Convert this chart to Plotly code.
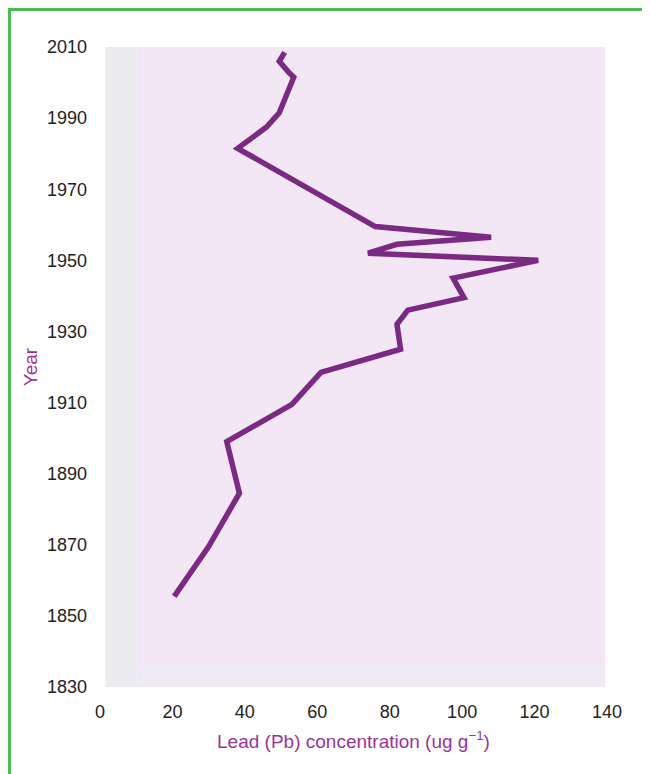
"""
Lead concentration profile by year (sediment core).
"""
import plotly.graph_objects as go

# data
lead_pb = [51, 49.5, 52, 53.5, 49.5, 46, 38, 76, 108, 82, 74, 121, 97.5,
           100.5, 85, 82, 83, 61, 53, 35, 38.5, 30, 20.5]
years = [2008.5, 2006, 2003, 2001.5, 1991.5, 1987.5, 1981.5, 1959.5, 1956.5,
         1954.5, 1952, 1950, 1945, 1939.5, 1936, 1932, 1925, 1918.5, 1909.5,
         1899, 1884.5, 1869.5, 1855.5]

x_ticks = [0, 20, 40, 60, 80, 100, 120, 140]
y_ticks = [1830, 1850, 1870, 1890, 1910, 1930, 1950, 1970, 1990, 2010]

PURPLE = "#7a2a82"
TITLE_PURPLE = "#993399"
GREEN = "#4cbb55"

W, H = 650, 774
L, R, T, B = 92, 51, 39, 95
pw, ph = W - L - R, H - T - B


def px_x(p):
    return (p - L) / pw


def px_y(p):
    return (H - B - p) / ph


fig = go.Figure()

fig.add_trace(go.Scatter(
    x=lead_pb, y=years, mode="lines",
    line=dict(color=PURPLE, width=5.5),
    hoverinfo="skip",
))

shapes = [
    # plot background panels
    dict(type="rect", xref="x", yref="y", x0=1.5, x1=10, y0=1830, y1=2010.5,
         fillcolor="#ecebef", line_width=0, layer="below"),
    dict(type="rect", xref="x", yref="y", x0=10, x1=139.5, y0=1836, y1=2010.5,
         fillcolor="#f4e7f5", line_width=0, layer="below"),
    dict(type="rect", xref="x", yref="y", x0=10, x1=139.5, y0=1830, y1=1836,
         fillcolor="#efebf4", line_width=0, layer="below"),
    # green frame, left and top
    dict(type="line", xref="paper", yref="paper", x0=px_x(1.5), x1=px_x(1.5),
         y0=px_y(H), y1=px_y(0), line=dict(color=GREEN, width=3)),
    dict(type="line", xref="paper", yref="paper", x0=px_x(0), x1=px_x(W),
         y0=px_y(1.5), y1=px_y(1.5), line=dict(color=GREEN, width=3)),
]

fig.update_layout(
    width=W, height=H,
    margin=dict(l=L, r=R, t=T, b=B),
    paper_bgcolor="white",
    plot_bgcolor="white",
    showlegend=False,
    shapes=shapes,
    font=dict(family="Liberation Sans, Arial, sans-serif", size=18, color="#222222"),
    xaxis=dict(
        range=[0, 140], tickvals=x_ticks, showgrid=False, zeroline=False,
        showline=False, ticks="", ticklabelstandoff=12,
        title=dict(text="Lead (Pb) concentration (ug g<sup>−1</sup>)",
                   font=dict(color=TITLE_PURPLE, size=19), standoff=13),
    ),
    yaxis=dict(
        range=[1830, 2010], tickvals=y_ticks, showgrid=False, zeroline=False,
        showline=False, ticks="", ticklabelstandoff=12,
        title=dict(text="Year", font=dict(color=TITLE_PURPLE, size=19), standoff=4),
    ),
)

fig.write_html("out.html")
